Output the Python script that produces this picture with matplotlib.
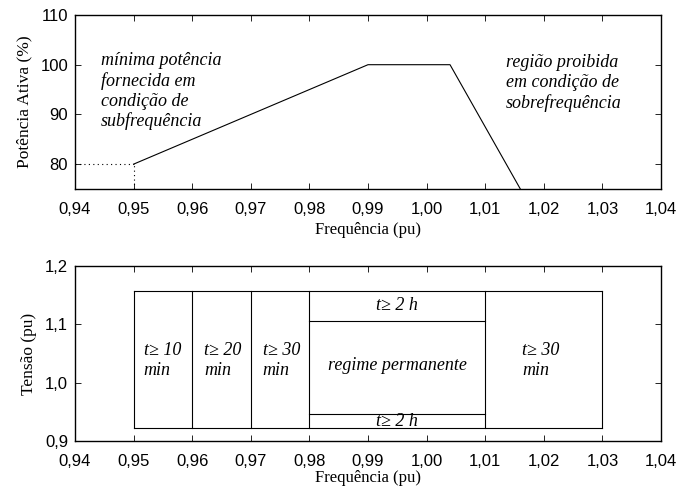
import matplotlib.pyplot as plt

# data
freq_curve = [0.95, 0.99, 1.004, 1.016]
power_curve = [80, 100, 100, 75]

x_ticks = [0.94, 0.95, 0.96, 0.97, 0.98, 0.99, 1.00, 1.01, 1.02, 1.03, 1.04]
x_labels = ["0,94", "0,95", "0,96", "0,97", "0,98", "0,99", "1,00", "1,01", "1,02", "1,03", "1,04"]
p_ticks = [80, 90, 100, 110]
v_ticks = [0.9, 1.0, 1.1, 1.2]
v_labels = ["0,9", "1,0", "1,1", "1,2"]

band_edges = [0.95, 0.96, 0.97, 0.98, 1.01, 1.03]
v_min, v_max = 0.922, 1.158
v_inner = [0.947, 1.105]

serif = "Liberation Serif"
sans = "Liberation Sans"

fig = plt.figure(figsize=(6.78, 4.88), dpi=100)
ax1 = fig.add_axes([0.1106, 0.6127, 0.8643, 0.3566])
ax2 = fig.add_axes([0.1106, 0.0963, 0.8643, 0.3586])


def style(ax):
    ax.set_xlim(0.94, 1.04)
    ax.set_xticks(x_ticks)
    ax.set_xticklabels(x_labels, fontfamily=sans, fontsize=12)
    ax.tick_params(direction="in", top=True, right=True, length=4, width=0.6)
    ax.tick_params(axis="x", pad=9)
    ax.tick_params(axis="y", pad=5)
    for s in ax.spines.values():
        s.set_linewidth(1.0)


# ---- top: active power vs frequency
ax1.plot(freq_curve, power_curve, color="black", lw=0.8)
ax1.plot([0.94, freq_curve[0]], [power_curve[0], power_curve[0]], color="black", lw=0.8, ls=(0, (1, 3)))
ax1.plot([freq_curve[0], freq_curve[0]], [75, power_curve[0]], color="black", lw=0.8, ls=(0, (1, 3)))
ax1.set_ylim(75, 110)
ax1.set_yticks(p_ticks)
ax1.set_yticklabels([str(v) for v in p_ticks], fontfamily=sans, fontsize=12)
style(ax1)
ax1.set_xlabel("Frequência (pu)", fontfamily=serif, fontsize=12, labelpad=4)
ax1.set_ylabel("Potência Ativa (%)", fontfamily=serif, fontsize=12.5, labelpad=6)

kw = dict(fontfamily=serif, style="italic", fontsize=13, linespacing=1.2)
ax1.text(0.9444, 102.5, "mínima potência\nfornecida em\ncondição de\nsubfrequência",
         va="top", ha="left", **kw)
ax1.text(1.0135, 102.1, "região proibida\nem condição de\nsobrefrequência",
         va="top", ha="left", **kw)

# ---- bottom: voltage vs frequency regions
ax2.plot([band_edges[0], band_edges[-1]], [v_max, v_max], color="black", lw=0.8)
ax2.plot([band_edges[0], band_edges[-1]], [v_min, v_min], color="black", lw=0.8)
for f in band_edges:
    ax2.plot([f, f], [v_min, v_max], color="black", lw=0.8)
for v in v_inner:
    ax2.plot([band_edges[3], band_edges[4]], [v, v], color="black", lw=0.8)

ax2.set_ylim(0.9, 1.2)
ax2.set_yticks(v_ticks)
ax2.set_yticklabels(v_labels, fontfamily=sans, fontsize=12)
style(ax2)
ax2.set_xlabel("Frequência (pu)", fontfamily=serif, fontsize=12, labelpad=1)
ax2.set_ylabel("Tensão (pu)", fontfamily=serif, fontsize=12.5, labelpad=6)

ax2.text(0.9517, 1.038, "t≥ 10\nmin", va="center", ha="left", **kw)
ax2.text(0.9620, 1.038, "t≥ 20\nmin", va="center", ha="left", **kw)
ax2.text(0.9720, 1.038, "t≥ 30\nmin", va="center", ha="left", **kw)
ax2.text(1.0163, 1.038, "t≥ 30\nmin", va="center", ha="left", **kw)
ax2.text(0.995, 1.030, "regime permanente", va="center", ha="center", **kw)
ax2.text(0.995, 1.132, "t≥ 2 h", va="center", ha="center", **kw)
ax2.text(0.995, 0.933, "t≥ 2 h", va="center", ha="center", **kw)

fig.savefig("out.png", dpi=100)
